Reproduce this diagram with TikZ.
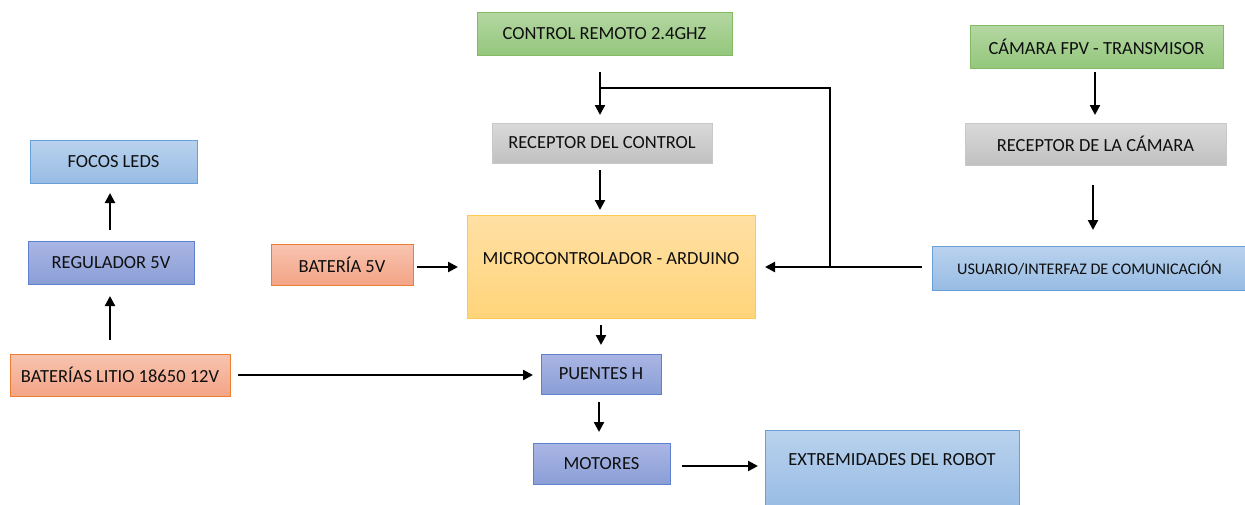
\documentclass[tikz,border=0pt]{standalone}
\usepackage{fontspec}
\setmainfont{Carlito}
\usetikzlibrary{arrows.meta,calc}
\definecolor{txt}{RGB}{15,15,15}
\definecolor{gT}{RGB}{180,215,162}\definecolor{gB}{RGB}{148,199,124}\definecolor{gD}{RGB}{130,186,102}
\definecolor{grT}{RGB}{217,217,217}\definecolor{grB}{RGB}{193,193,193}\definecolor{grD}{RGB}{200,200,200}
\definecolor{lbT}{RGB}{185,210,238}\definecolor{lbB}{RGB}{152,188,228}\definecolor{lbD}{RGB}{105,160,218}
\definecolor{mbT}{RGB}{170,182,228}\definecolor{mbB}{RGB}{138,158,214}\definecolor{mbD}{RGB}{95,128,208}
\definecolor{sT}{RGB}{248,196,176}\definecolor{sB}{RGB}{243,164,134}\definecolor{sD}{RGB}{237,125,49}
\definecolor{oT}{RGB}{255,224,164}\definecolor{oB}{RGB}{255,212,122}\definecolor{oD}{RGB}{255,200,80}
\tikzset{
  box/.style={rectangle, inner sep=0pt, outer sep=0pt, line width=0.8pt, text=txt, font=\fontsize{18.5}{20}\selectfont},
  green/.style={box, top color=gT, bottom color=gB, draw=gD},
  gray/.style={box, top color=grT, bottom color=grB, draw=grD},
  lblue/.style={box, top color=lbT, bottom color=lbB, draw=lbD},
  mblue/.style={box, top color=mbT, bottom color=mbB, draw=mbD},
  salmon/.style={box, top color=sT, bottom color=sB, draw=sD},
  orange/.style={box, top color=oT, bottom color=oB, draw=oD},
  lbl/.style={text=txt, font=\fontsize{18.5}{20}\selectfont, inner sep=0pt},
  arr/.style={line width=2.2pt, -{Triangle[length=10pt,width=10pt]}},
  wire/.style={line width=1.7pt}
}
\begin{document}
\begin{tikzpicture}[x=1pt,y=-1pt]
\useasboundingbox (0,0) rectangle (1245,504);
% boxes
\node[green, minimum width=255pt, minimum height=43pt] (ctrl) at (604.5,33.5) {CONTROL REMOTO 2.4GHZ};
\node[green, minimum width=253pt, minimum height=43pt] (cam) at (1096.5,46.5) {CÁMARA FPV - TRANSMISOR};
\node[gray, minimum width=220pt, minimum height=40pt] (rctrl) at (602,143) {RECEPTOR DEL CONTROL};
\node[gray, minimum width=261pt, minimum height=42pt] (rcam) at (1095.5,144) {RECEPTOR DE LA CÁMARA};
\node[lblue, minimum width=167pt, minimum height=43pt] (focos) at (113.5,161.5) {FOCOS LEDS};
\node[mblue, minimum width=166pt, minimum height=43pt] (reg) at (111,262.5) {REGULADOR 5V};
\node[salmon, minimum width=142pt, minimum height=41pt] (bat5) at (342,264.5) {BATERÍA 5V};
\node[orange, minimum width=288pt, minimum height=103pt] (micro) at (611,266.5) {};
\node[lbl] (microt) at (611,259) {MICROCONTROLADOR - ARDUINO};
\node[lblue, minimum width=315pt, minimum height=44pt, font=\fontsize{16.2}{18}\selectfont] (usu) at (1089.5,268) {USUARIO/INTERFAZ DE COMUNICACIÓN};
\node[salmon, minimum width=220pt, minimum height=42pt] (litio) at (120,375) {BATERÍAS LITIO 18650 12V};
\node[mblue, minimum width=120pt, minimum height=40pt] (puentes) at (601,374) {PUENTES H};
\node[mblue, minimum width=137pt, minimum height=41pt] (motores) at (601.5,463.5) {MOTORES};
\node[lblue, minimum width=254pt, minimum height=78pt] (extrem) at (892,469) {};
\node[lbl] (extremt) at (892,460) {EXTREMIDADES DEL ROBOT};
% coordinates
\coordinate (j1) at (600,88);
\coordinate (j2) at (830,88);
\coordinate (j3) at (830,267);
% connectors
\draw[arr, shorten <=17pt, shorten >=8pt] (ctrl.south -| j1) -- (rctrl.north -| j1);
\draw[wire] (j1) -- (j2) -- (j3);
\draw[arr, shorten <=10pt, shorten >=10pt] (usu.west |- j3) -- (micro.east |- j3);
\draw[arr, shorten <=7pt, shorten >=5pt] (rctrl.south -| j1) -- (micro.north -| j1);
\draw[arr, shorten <=4pt, shorten >=8pt] ([xshift=-1.5pt]cam.south) -- ([xshift=-1.5pt]cam.south |- rcam.north);
\draw[arr, shorten <=20pt, shorten >=16pt] ([xshift=-2.5pt]rcam.south) -- ([xshift=-2.5pt]rcam.south |- usu.north);
\draw[arr, shorten <=4pt, shorten >=9pt] (bat5.east |- j3) -- (micro.west |- j3);
\draw[arr, shorten <=7pt, shorten >=9pt] (micro.south -| puentes) -- (puentes.north);
\draw[arr, shorten <=8pt, shorten >=8pt] (litio.east) -- (litio.east -| puentes.west);
\draw[arr, shorten <=8pt, shorten >=11pt] ([xshift=-2pt]puentes.south) -- ([xshift=-2pt]puentes.south |- motores.north);
\draw[arr, shorten <=12pt, shorten >=7pt] ([yshift=-2.5pt]motores.east) -- ([yshift=-2.5pt]motores.east -| extrem.west);
\draw[arr, shorten <=11pt, shorten >=10pt] (reg.north -| 110,0) -- (focos.south -| 110,0);
\draw[arr, shorten <=14pt, shorten >=12pt] (litio.north -| 110,0) -- (reg.south -| 110,0);
\end{tikzpicture}
\end{document}
